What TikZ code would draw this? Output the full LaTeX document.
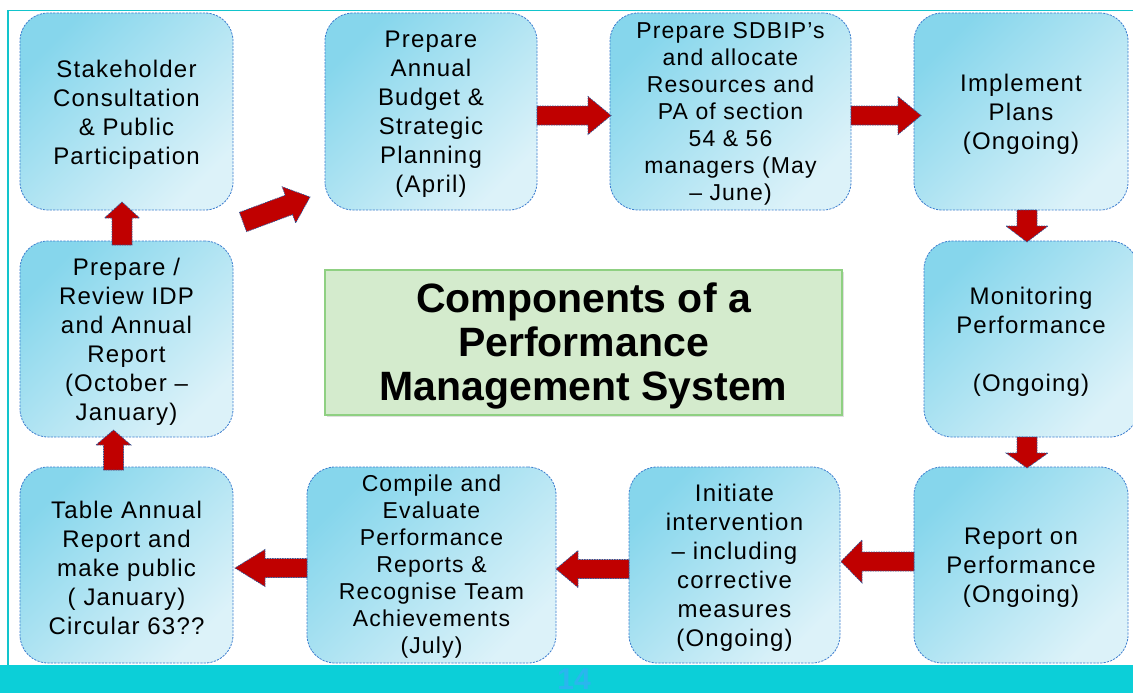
\documentclass[tikz,border=0pt]{standalone}
\usepackage{fontspec}
\setmainfont{Liberation Sans}
\newfontfamily\boxfont{Liberation Sans}[LetterSpace=5]
\usetikzlibrary{calc,shadows}
\definecolor{boxtl}{HTML}{86D6EC}
\definecolor{boxbr}{HTML}{DCF2F9}
\definecolor{boxline}{HTML}{3F7FCF}
\definecolor{arrred}{HTML}{C00000}
\definecolor{arrline}{HTML}{2F5597}
\definecolor{titlefill}{HTML}{D4EBCD}
\definecolor{titleline}{HTML}{8FD082}
\definecolor{framec}{HTML}{12C4CC}
\definecolor{barc}{HTML}{0CCFD8}
\definecolor{numc}{HTML}{2AB6EE}
\newcommand\blockarrow[5]{%
  \coordinate (hb) at ($(#2)!#5pt!(#1)$);
  \draw[barrow] ($(#1)!#3pt!90:(#2)$) -- ($(hb)!#3pt!90:(#2)$) -- ($(hb)!#4pt!90:(#2)$) -- (#2)
    -- ($(hb)!#4pt!-90:(#2)$) -- ($(hb)!#3pt!-90:(#2)$) -- ($(#1)!#3pt!-90:(#2)$) -- cycle;
}
\tikzset{
  procbox/.style={draw=boxline, line width=0.8pt, dash pattern=on 2.2pt off 1.2pt,
    rounded corners=28pt, top color=boxtl, bottom color=boxbr, shading angle=45,
    inner sep=0pt},
  boxtext/.style={align=center, inner sep=0pt, yshift=-3pt,
    font=\boxfont\fontsize{24}{29}\selectfont},
  smalltext/.style={align=center, inner sep=0pt, yshift=-2pt,
    font=\boxfont\fontsize{23}{27}\selectfont},
  barrow/.style={fill=arrred, draw=arrline, line width=0.7pt, dash pattern=on 1.5pt off 1pt},
  titlebox/.style={fill=titlefill, draw=titleline, line width=1.5pt, inner sep=0pt,
    drop shadow={shadow xshift=2pt, shadow yshift=-2pt, opacity=.25}},
  titletext/.style={align=center, inner sep=0pt, yshift=-3pt,
    font=\bfseries\fontsize{41}{44}\selectfont}
}
\begin{document}
\begin{tikzpicture}[x=1pt,y=-1pt]
\useasboundingbox (0,0) rectangle (1133,693);
\fill[white] (0,0) rectangle (1133,693);
% frame
\draw[framec, line width=1.5pt] (8,665) -- (8,10.5) -- (1133,10.5);
\fill[barc] (0,665) rectangle (1133,693);
\node[font=\bfseries\fontsize{30}{30}\selectfont, text=numc] (pg) at (574,679) {14};
% boxes
\node[procbox, minimum width=213pt, minimum height=197pt] (stake) at (126.5,111.5) {};
\node[boxtext] (stake-t) at (stake.center)
  {Stakeholder\\Consultation\\\& Public\\Participation};
\node[procbox, minimum width=212pt, minimum height=197pt] (budget) at (431,111.5) {};
\node[boxtext] (budget-t) at (budget.center)
  {Prepare\\Annual\\Budget \&\\Strategic\\Planning\\(April)};
\node[procbox, minimum width=241pt, minimum height=197pt] (sdbip) at (730.5,111.5) {};
\node[smalltext] (sdbip-t) at (sdbip.center)
  {Prepare SDBIP’s\\and allocate\\Resources and\\PA of section\\54 \& 56\\managers (May\\– June)};
\node[procbox, minimum width=214pt, minimum height=197pt] (impl) at (1021,111.5) {};
\node[boxtext] (impl-t) at (impl.center)
  {Implement\\Plans\\(Ongoing)};
\node[procbox, minimum width=214pt, minimum height=196pt] (monit) at (1031,339) {};
\node[boxtext] (monit-t) at (monit.center)
  {Monitoring\\Performance\\[29pt](Ongoing)};
\node[procbox, minimum width=214pt, minimum height=196pt] (report) at (1021,565) {};
\node[boxtext] (report-t) at (report.center)
  {Report on\\Performance\\(Ongoing)};
\node[procbox, minimum width=211pt, minimum height=196pt] (init) at (734.5,565) {};
\node[boxtext] (init-t) at (init.center)
  {Initiate\\intervention\\– including\\corrective\\measures\\(Ongoing)};
\node[procbox, minimum width=249pt, minimum height=196pt] (compile) at (431.5,565) {};
\node[smalltext] (compile-t) at (compile.center)
  {Compile and\\Evaluate\\Performance\\Reports \&\\Recognise Team\\Achievements\\(July)};
\node[procbox, minimum width=213pt, minimum height=196pt] (table) at (126.5,565) {};
\node[boxtext] (table-t) at (table.center)
  {Table Annual\\Report and\\make public\\( January)\\Circular 63??};
\node[procbox, minimum width=213pt, minimum height=196pt] (idp) at (126.5,339) {};
\node[boxtext] (idp-t) at (idp.center)
  {Prepare /\\Review IDP\\and Annual\\Report\\(October –\\January)};
% title
\node[titlebox, minimum width=517pt, minimum height=145pt] (title) at (583.5,342.5) {};
\node[titletext] (title-t) at (title.center)
  {Components of a\\Performance\\Management System};
% arrow ends
\coordinate (t1) at (122,245);   \coordinate (p1) at (122,202);
\coordinate (t2) at (113.5,470); \coordinate (p2) at (113.5,430);
\coordinate (t3) at (243,222);   \coordinate (p3) at (310,197);
\coordinate (t4) at (537,115.5); \coordinate (p4) at (611,115.5);
\coordinate (t5) at (851,115.5); \coordinate (p5) at (921,115.5);
\coordinate (t6) at (1027,210);  \coordinate (p6) at (1027,242);
\coordinate (t7) at (1027,437);  \coordinate (p7) at (1027,468);
\coordinate (t8) at (914,561.5); \coordinate (p8) at (841,561.5);
\coordinate (t9) at (629,569);   \coordinate (p9) at (556,569);
\coordinate (t10) at (307,568);  \coordinate (p10) at (235,568);
% arrows
\blockarrow{t1}{p1}{10}{17.5}{16}
\blockarrow{t2}{p2}{10}{17.5}{15}
\blockarrow{t3}{p3}{10.3}{19.3}{22.5}
\blockarrow{t4}{p4}{9.5}{19}{23}
\blockarrow{t5}{p5}{9.5}{19}{23}
\blockarrow{t6}{p6}{10}{21}{16}
\blockarrow{t7}{p7}{10}{21}{15}
\blockarrow{t8}{p8}{9.5}{21.5}{21}
\blockarrow{t9}{p9}{9.5}{18.5}{22}
\blockarrow{t10}{p10}{9.5}{18.5}{30}
\end{tikzpicture}
\end{document}
